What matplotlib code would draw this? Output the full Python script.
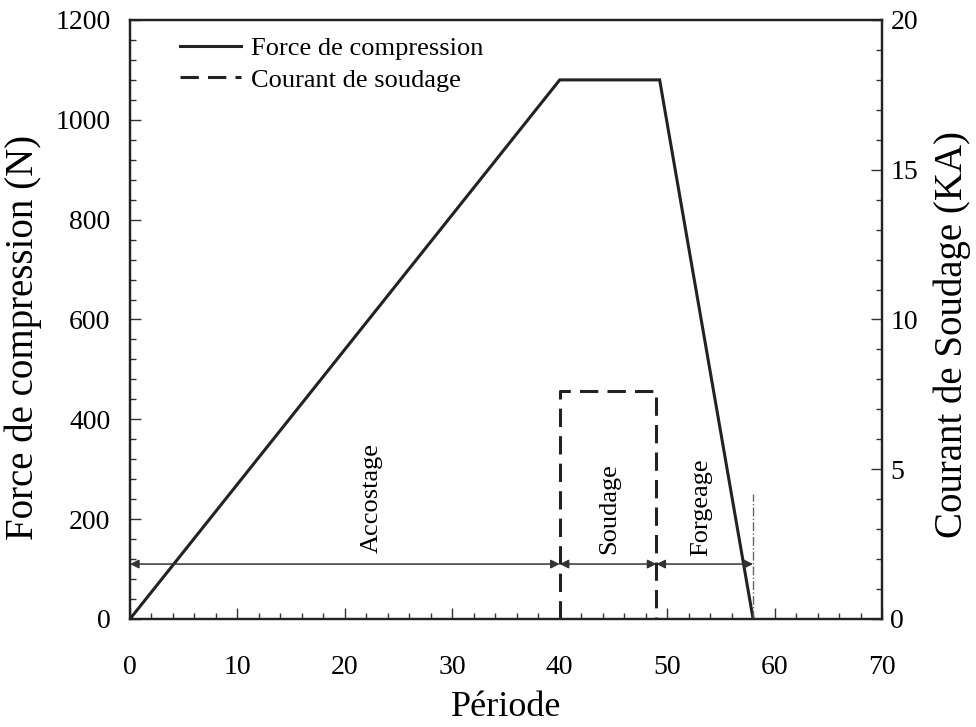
import matplotlib
matplotlib.use('Agg')
import matplotlib.pyplot as plt
from matplotlib.ticker import MultipleLocator

plt.rcParams['font.family'] = ['Liberation Serif', 'DejaVu Serif']

# force de compression (N)
force_x = [0, 40, 49.3, 58]
force_y = [0, 1080, 1080, 0]

# courant de soudage (kA)
current_x = [40, 40, 49, 49]
current_y = [0, 7.6, 7.6, 0]

# phases
phase_bounds = [0, 40, 49, 58]
phase_names = ['Accostage', 'Soudage', 'Forgeage']
phase_label_x = [22.5, 44.6, 53.2]
phase_label_y = [242, 222, 224]
arrow_y = 110
end_marker_top = 250

fig = plt.figure(figsize=(9.76, 7.27), dpi=100)
ax = fig.add_axes([0.1332, 0.1486, 0.7705, 0.8239])
ax2 = ax.twinx()

l1, = ax.plot(force_x, force_y, color='#222222', lw=2.2, solid_joinstyle='miter')
l2, = ax2.plot(current_x, current_y, color='#222222', lw=2.2, dashes=(6, 3))

# separations / arrows
for i in range(len(phase_names)):
    ax.annotate('', xy=(phase_bounds[i + 1], arrow_y), xytext=(phase_bounds[i], arrow_y),
                arrowprops=dict(arrowstyle='<|-|>', color='#333333', lw=1.1,
                                mutation_scale=13, shrinkA=0, shrinkB=0))
    ax.text(phase_label_x[i], phase_label_y[i], phase_names[i], rotation=90,
            ha='center', va='center', fontsize=19)

ax.plot([phase_bounds[-1], phase_bounds[-1]], [0, end_marker_top], color='#666666',
        lw=1.0, linestyle='-.')

ax.set_xlim(0, 70)
ax.set_ylim(0, 1200)
ax2.set_ylim(0, 20)

ax.xaxis.set_major_locator(MultipleLocator(10))
ax.xaxis.set_minor_locator(MultipleLocator(2))
ax.yaxis.set_major_locator(MultipleLocator(200))
ax.yaxis.set_minor_locator(MultipleLocator(40))
ax2.yaxis.set_major_locator(MultipleLocator(5))
ax2.yaxis.set_minor_locator(MultipleLocator(1))

for a in (ax, ax2):
    a.tick_params(which='both', direction='in', labelsize=20, width=1.0, color='#333333')
    a.tick_params(which='major', length=8)
    a.tick_params(which='minor', length=4)
    for s in a.spines.values():
        s.set_linewidth(1.6)
        s.set_color('#222222')
ax.tick_params(axis='x', pad=26)
ax.tick_params(axis='y', pad=14)
ax2.tick_params(axis='y', pad=6)

ax.set_xlabel('Période', fontsize=26, labelpad=8)
ax.set_ylabel('Force de compression (N)', fontsize=28)
ax2.set_ylabel('Courant de Soudage (KA)', fontsize=28)
ax.yaxis.set_label_coords(-0.117, 0.47)
ax2.yaxis.set_label_coords(1.068, 0.475)

ax.legend([l1, l2], ['Force de compression', 'Courant de soudage'],
          loc='upper left', bbox_to_anchor=(0.0665, 0.972), frameon=False, fontsize=19,
          handlelength=2.3, handletextpad=0.4, labelspacing=0.3,
          borderaxespad=0, borderpad=0)

fig.savefig('out.png', dpi=100)
